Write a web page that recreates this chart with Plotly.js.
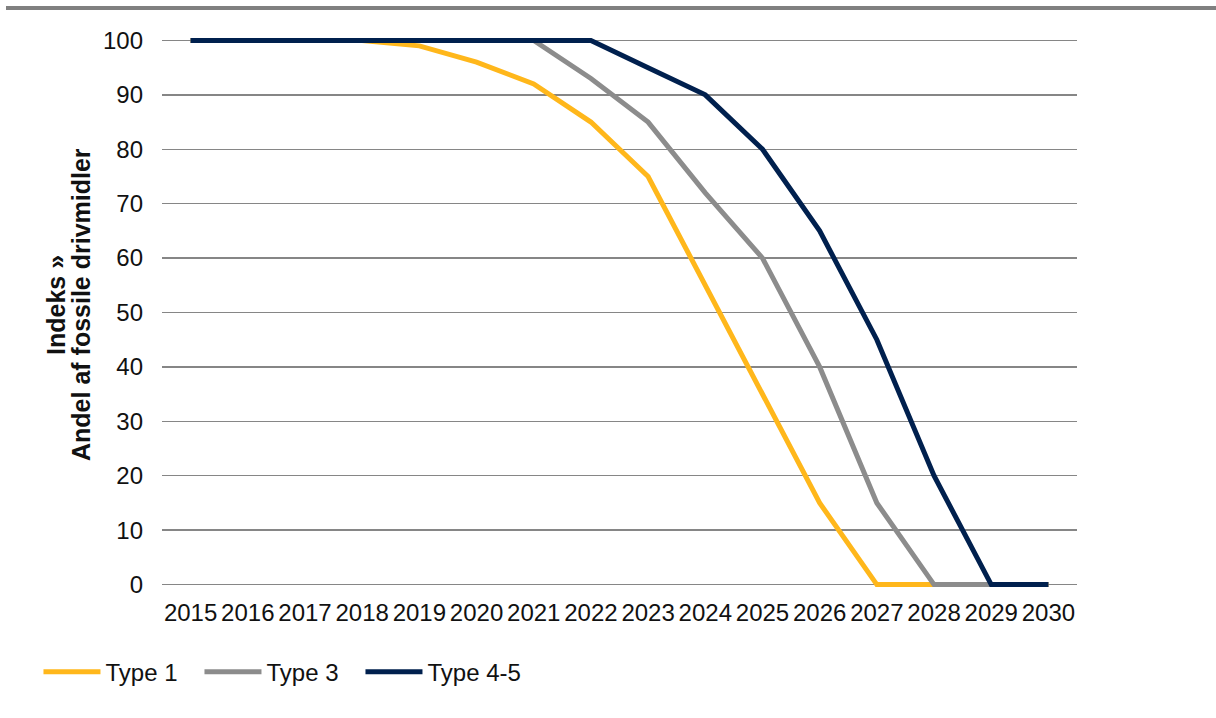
<!DOCTYPE html>
<html>
<head>
<meta charset="utf-8">
<script src="https://cdn.plot.ly/plotly-3.0.1.min.js"></script>
<style>
html,body{margin:0;padding:0;background:#fff;}
#chart{width:1216px;height:718px;}
</style>
</head>
<body>
<div id="chart"></div>
<script>
const years = ["2015","2016","2017","2018","2019","2020","2021","2022","2023","2024","2025","2026","2027","2028","2029","2030"];
const type1 = [100,100,100,100,99,96,92,85,75,55,35,15,0,0,0,0];
const type3 = [100,100,100,100,100,100,100,93,85,72,60,40,15,0,0,0];
const type45 = [100,100,100,100,100,100,100,100,95,90,80,65,45,20,0,0];
const seriesNames = ["Type 1","Type 3","Type 4-5"];
const seriesColors = ["#FFB71B","#8C8C8C","#00204E"];
const seriesValues = [type1, type3, type45];
const yTitleLines = ["Indeks »", "Andel af fossile drivmidler"];

const traces = seriesValues.map((vals, i) => ({
  type: "scatter",
  mode: "lines",
  x: years,
  y: vals,
  name: seriesNames[i],
  line: {color: seriesColors[i], width: 5},
  hoverinfo: "x+y+name"
}));

const font = {family: "Liberation Sans, Arial, sans-serif", size: 24, color: "#111"};
const titleFont = {family: "Liberation Sans, Arial, sans-serif", size: 25, color: "#111"};

const layout = {
  width: 1216,
  height: 718,
  margin: {l: 162, r: 139, t: 35, b: 128},
  paper_bgcolor: "#fff",
  plot_bgcolor: "#fff",
  font: font,
  showlegend: true,
  xaxis: {
    type: "category",
    range: [-0.5, 15.5],
    showgrid: false,
    zeroline: false,
    showline: false,
    ticks: "",
    ticklabelstandoff: 6,
    tickfont: font,
    fixedrange: true
  },
  yaxis: {
    range: [-1, 101],
    tickvals: [0,10,20,30,40,50,60,70,80,90,100],
    showgrid: true,
    gridcolor: "#868686",
    gridwidth: 1.5,
    zeroline: false,
    showline: false,
    ticks: "",
    ticklabelstandoff: 18,
    tickfont: font,
    fixedrange: true
  },
  annotations: [
    {text: "<b>" + yTitleLines[0] + "</b>", xref: "paper", yref: "paper",
     x: (56 - 162) / 915, y: (590 - 305) / 555, xanchor: "center", yanchor: "middle",
     textangle: -90, showarrow: false, font: titleFont},
    {text: "<b>" + yTitleLines[1] + "</b>", xref: "paper", yref: "paper",
     x: (81 - 162) / 915, y: (590 - 305) / 555, xanchor: "center", yanchor: "middle",
     textangle: -90, showarrow: false, font: titleFont}
  ],
  legend: {
    orientation: "h",
    x: -0.135,
    xanchor: "left",
    y: -0.148,
    yanchor: "middle",
    font: font,
    itemwidth: 57,
    entrywidth: 89,
    entrywidthmode: "pixels",
    bgcolor: "rgba(0,0,0,0)",
    tracegroupgap: 0
  },
  shapes: [{
    type: "rect",
    xref: "paper", yref: "paper",
    x0: (6 - 162) / 915, x1: (1216 - 162) / 915,
    y0: (590 - 10) / 555, y1: (590 - 6) / 555,
    fillcolor: "#808080",
    line: {width: 0}
  }]
};

Plotly.newPlot("chart", traces, layout, {displayModeBar: false, staticPlot: true});
</script>
</body>
</html>
